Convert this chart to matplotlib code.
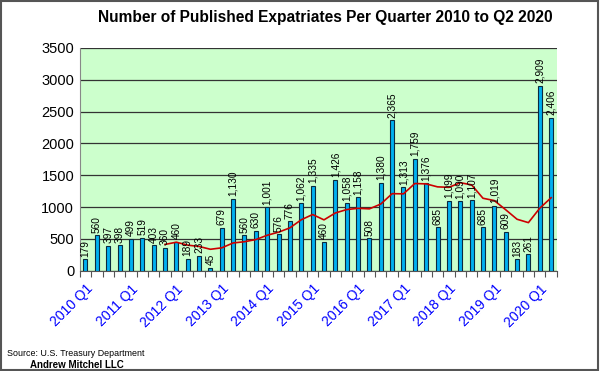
import matplotlib
matplotlib.use('Agg')
import matplotlib.pyplot as plt
import numpy as np
import pandas as pd

plt.rcParams['font.family'] = ['Liberation Sans', 'DejaVu Sans']

quarters = [f'{y} Q{q}' for y in range(2010, 2021) for q in range(1, 5)][:42]
expatriates = [179, 560, 397, 398, 499, 519, 403, 360, 460, 189, 233, 45,
               679, 1130, 560, 630, 1001, 576, 776, 1062, 1335, 460, 1426, 1058,
               1158, 508, 1380, 2365, 1313, 1759, 1376, 685, 1099, 1090, 1107, 685,
               1019, 609, 183, 261, 2909, 2406]
yticks = [0, 500, 1000, 1500, 2000, 2500, 3000, 3500]

# excel style 8-period moving average trendline
trend = pd.Series(expatriates).rolling(8).mean()

fig = plt.figure(figsize=(6, 3.71), dpi=100)
fig.patch.set_facecolor('white')
fig.patches.append(plt.Rectangle((0.002, 0.003), 0.995, 0.994, transform=fig.transFigure,
                                 fill=False, edgecolor='#555555', linewidth=1.5))
ax = fig.add_axes([0.133, 0.27, 0.795, 0.601])
ax.set_facecolor('#CCFFCC')

x = np.arange(len(expatriates))
ax.bar(x, expatriates, width=0.35, color='#00B0F0', edgecolor='#0A2A40', linewidth=0.8, zorder=3)
ax.plot(x, trend, color='#CC0000', linewidth=1.2, zorder=4)

for i, v in enumerate(expatriates):
    ax.text(i, v + 40, f'{v:,}', rotation=90, ha='center', va='bottom', fontsize=7.3, zorder=5)

ax.set_ylim(0, 3500)
ax.set_xlim(-0.5, len(expatriates) - 0.5)
ax.set_yticks(yticks)
ax.tick_params(axis='y', labelsize=10.5, length=0, pad=4)
ax.grid(axis='y', color='#333333', linewidth=0.9, zorder=1)

ax.set_xticks(np.arange(len(expatriates) + 1) - 0.5)
ax.set_xticklabels([])
ax.tick_params(axis='x', which='major', length=4, direction='out', color='#555555')
ax.set_xticks(x[::4], minor=True)
ax.set_xticklabels(quarters[::4], minor=True, rotation=45, ha='right', va='top',
                   rotation_mode='anchor', color='#0000FF', fontsize=10)
ax.tick_params(axis='x', which='minor', length=0, pad=8)

for s in ['top', 'right']:
    ax.spines[s].set_visible(False)
ax.spines['left'].set_color('#888888')
ax.spines['bottom'].set_color('#555555')

fig.text(0.543, 0.952, 'Number of Published Expatriates Per Quarter 2010 to Q2 2020',
         ha='center', va='center', fontsize=11.2, fontweight='bold')
fig.text(0.012, 0.047, 'Source: U.S. Treasury Department', fontsize=6.4, va='center')
fig.text(0.05, 0.017, 'Andrew Mitchel LLC', fontsize=7, fontweight='bold', va='center')

fig.savefig('out.png', dpi=100)
